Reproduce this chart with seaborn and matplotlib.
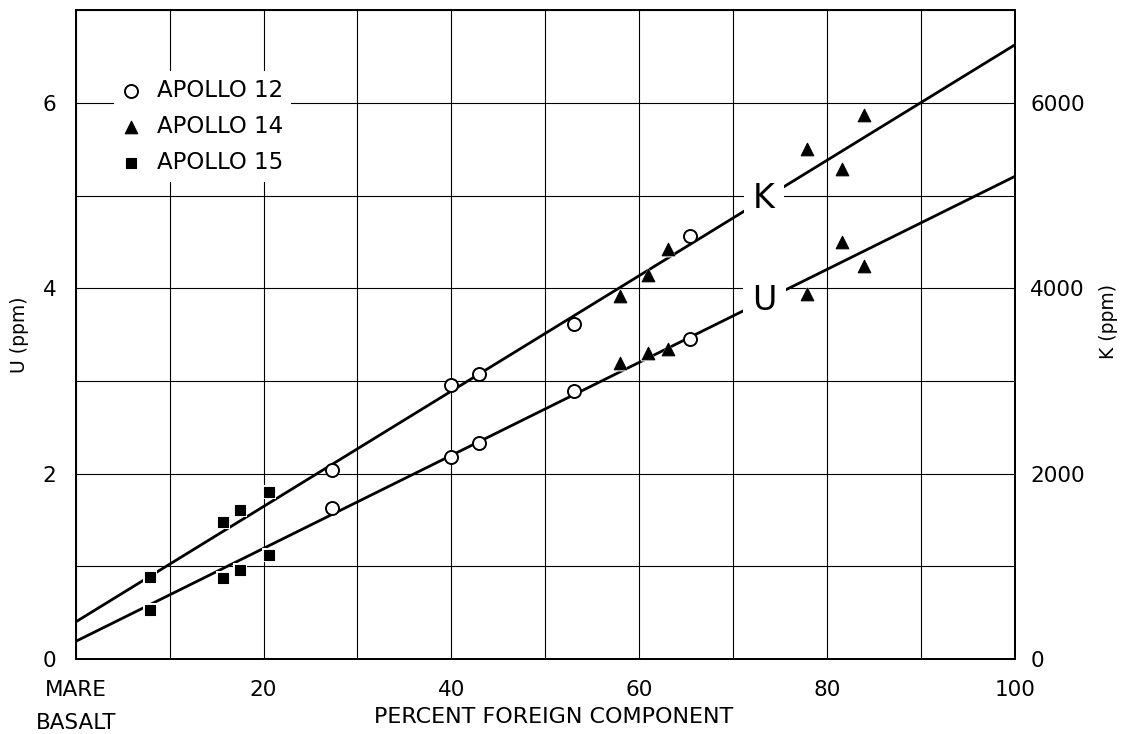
import numpy as np
import pandas as pd
import matplotlib
matplotlib.use("Agg")
import matplotlib.pyplot as plt
from matplotlib.ticker import MultipleLocator
import seaborn as sns

# Foreign-component fraction (%) with measured U (ppm) and K (ppm) per mission
apollo12_pct = [27.3, 40.0, 42.9, 53.1, 65.4]
apollo12_u = [1.63, 2.18, 2.33, 2.89, 3.45]
apollo12_k = [2040, 2960, 3080, 3620, 4570]

apollo14_pct = [58.0, 60.9, 63.1, 77.9, 81.6, 83.9]
apollo14_u = [3.20, 3.30, 3.35, 3.94, 4.50, 4.24]
apollo14_k = [3920, 4150, 4430, 5510, 5290, 5870]

apollo15_pct = [7.9, 15.7, 17.5, 20.6]
apollo15_u = [0.53, 0.87, 0.96, 1.12]
apollo15_k = [885, 1480, 1610, 1800]

# Mixing lines between mare basalt (0 %) and pure foreign component (100 %)
mix_pct = [0, 100]
mix_u = [0.19, 5.21]
mix_k = [400, 6630]

missions = ["APOLLO 12", "APOLLO 14", "APOLLO 15"]
x_ticks = [0, 20, 40, 60, 80, 100]
x_tick_labels = ["MARE\nBASALT", "20", "40", "60", "80", "100"]
u_ticks = [0, 2, 4, 6]
u_tick_labels = ["0", "2", "4", "6"]
k_ticks = [0, 2000, 4000, 6000]
k_tick_labels = ["0", "2000", "4000", "6000"]

frames = []
for name, pct, u, k in zip(missions,
                           [apollo12_pct, apollo14_pct, apollo15_pct],
                           [apollo12_u, apollo14_u, apollo15_u],
                           [apollo12_k, apollo14_k, apollo15_k]):
    frames.append(pd.DataFrame({"pct": pct, "U": u, "K": k, "mission": name}))
samples = pd.concat(frames, ignore_index=True)
mix = pd.DataFrame({"pct": mix_pct, "U": mix_u, "K": mix_k})

sns.set_theme(style="white")
plt.rcParams["font.family"] = ["DejaVu Sans"]
plt.rcParams["text.color"] = "black"
plt.rcParams["axes.labelcolor"] = "black"

marker_style = {
    "APOLLO 12": dict(marker="o", facecolor="white", edgecolor="black", s=88, linewidth=1.4),
    "APOLLO 14": dict(marker="^", facecolor="black", edgecolor="black", s=82, linewidth=0.8),
    "APOLLO 15": dict(marker="s", facecolor="black", edgecolor="black", s=62, linewidth=0.8),
}
# filled symbols are set off from the mixing lines by a white gap
halo_size = {"APOLLO 14": 130, "APOLLO 15": 115}

fig = plt.figure(figsize=(11.28, 7.34), dpi=100)
ax = fig.add_axes([0.0671, 0.1022, 0.8327, 0.8835])
ax2 = ax.twinx()

ax.set_xlim(0, 100)
ax.set_ylim(0, 7)
ax2.set_ylim(0, 7000)

# grid
ax.xaxis.set_minor_locator(MultipleLocator(10))
ax.yaxis.set_minor_locator(MultipleLocator(1))
ax.grid(which="both", color="black", linewidth=0.8)
ax.set_axisbelow(True)

# mixing lines
sns.lineplot(data=mix, x="pct", y="U", ax=ax, color="black", linewidth=2.0, zorder=2)
sns.lineplot(data=mix, x="pct", y="K", ax=ax2, color="black", linewidth=2.0, zorder=2)

for name in missions:
    sub = samples[samples["mission"] == name]
    if name in halo_size:
        for axis, col in ((ax, "U"), (ax2, "K")):
            sns.scatterplot(data=sub, x="pct", y=col, ax=axis, marker=marker_style[name]["marker"],
                            s=halo_size[name], color="white", edgecolor="white",
                            linewidth=0, zorder=2.5, legend=False)
    sns.scatterplot(data=sub, x="pct", y="U", ax=ax, label=name, zorder=3, **marker_style[name])
    sns.scatterplot(data=sub, x="pct", y="K", ax=ax2, zorder=3, legend=False, **marker_style[name])

handles, labels = ax.get_legend_handles_labels()
if ax.get_legend() is not None:
    ax.get_legend().remove()

# line labels placed on the mixing lines
label_pct = 73.3
txt_box = dict(boxstyle="square,pad=0.28", facecolor="white", edgecolor="none")
ax2.text(label_pct, np.interp(label_pct, mix_pct, mix_k), "K", fontsize=24,
         ha="center", va="center", bbox=txt_box, zorder=4)
ax2.text(label_pct, np.interp(label_pct, mix_pct, mix_u), "U", fontsize=24,
         ha="center", va="center", bbox=txt_box, zorder=4, transform=ax.transData)

leg = ax2.legend(handles, labels, loc="upper left", bbox_to_anchor=(0.041, 0.906),
                 fontsize=16.5, frameon=True, facecolor="white", edgecolor="none",
                 framealpha=1, fancybox=False, handlelength=0.8, handletextpad=0.7,
                 labelspacing=0.55, borderpad=0.35, borderaxespad=0)
leg.set_zorder(6)

# ticks
ax.set_xticks(x_ticks)
ax.set_xticklabels(x_tick_labels)
ax.set_yticks(u_ticks)
ax.set_yticklabels(u_tick_labels)
ax2.set_yticks(k_ticks)
ax2.set_yticklabels(k_tick_labels)
ax.tick_params(axis="both", which="both", length=0, labelsize=15.5, colors="black")
ax.tick_params(axis="y", pad=14)
ax.tick_params(axis="x", pad=15)
ax2.tick_params(axis="y", which="both", length=0, labelsize=15.5, pad=11, colors="black")
for lbl in ax.get_xticklabels():
    lbl.set_linespacing(1.85)

ax.set_xlabel("PERCENT FOREIGN COMPONENT", fontsize=16)
ax.xaxis.set_label_coords(0.509, -0.074)
ax.set_ylabel("U (ppm)", fontsize=13.5, labelpad=10)
ax2.set_ylabel("K (ppm)", fontsize=13.5, labelpad=10, y=0.52)

for a in (ax, ax2):
    for sp in a.spines.values():
        sp.set_color("black")
        sp.set_linewidth(1.4)
        sp.set_visible(True)
ax2.grid(False)

fig.savefig("out.png", dpi=100, facecolor="white")
